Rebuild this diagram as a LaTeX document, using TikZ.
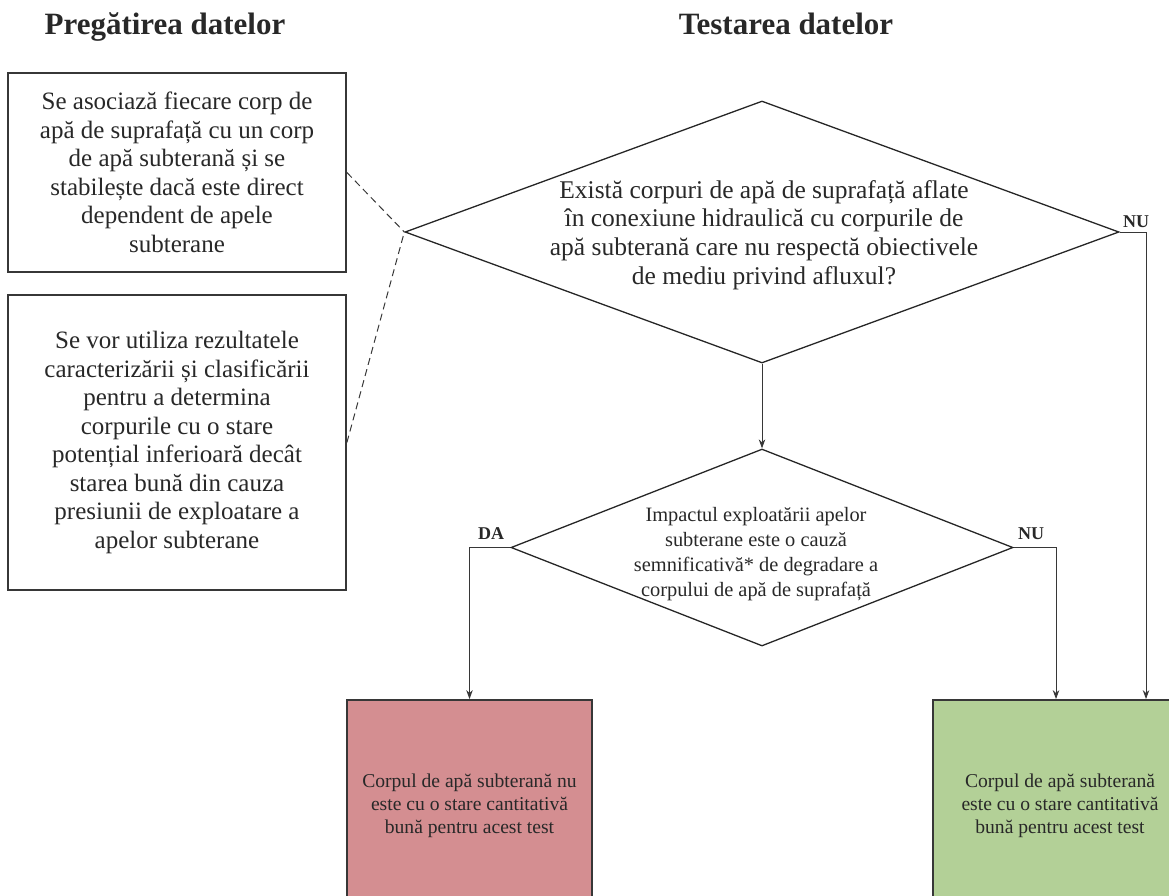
\documentclass[tikz,border=0pt]{standalone}
\usepackage{fontspec}
\setmainfont{Liberation Serif}
\usetikzlibrary{shapes.geometric,arrows.meta}
\definecolor{failfill}{RGB}{212,142,145}
\definecolor{passfill}{RGB}{179,208,151}
\definecolor{edgegray}{RGB}{55,55,55}
\definecolor{inkgray}{RGB}{40,40,40}

\begin{document}
\begin{tikzpicture}[x=1pt,y=-1pt,
  heading/.style={anchor=base,font=\fontsize{31}{36}\selectfont\bfseries,text=inkgray},
  note/.style={draw=edgegray,line width=1.8pt,inner sep=0pt,align=center,text=inkgray,
               font=\fontsize{25}{28.5}\selectfont,minimum width=338pt},
  decision/.style={diamond,draw=black!85,line width=1.3pt,inner sep=0pt},
  qtext/.style={align=center,text=inkgray,inner sep=0pt},
  result/.style={draw=edgegray,line width=1.8pt,inner sep=0pt,align=center,text=inkgray,
                 font=\fontsize{19.6}{23}\selectfont},
  answer/.style={font=\fontsize{18}{20}\selectfont\bfseries,text=inkgray,inner sep=0pt},
  flow/.style={draw=edgegray,line width=1pt,-{Stealth[length=9pt,width=6.5pt]}},
  link/.style={draw=edgegray,line width=1pt,dash pattern=on 7pt off 4.5pt}]

\useasboundingbox (0,0) rectangle (1169,895);
\clip (0,0) rectangle (1169,895);

% column headings
\node[heading] (h1) at (165,34) {Pregătirea datelor};
\node[heading] (h2) at (786,34) {Testarea datelor};

% data preparation notes
\node[note,minimum height=199pt] (prep1) at (177,172.5)
  {Se asociază fiecare corp de\\apă de suprafață cu un corp\\de apă subterană și se\\stabilește dacă este direct\\dependent de apele\\subterane};
\node[note,minimum height=295pt] (prep2) at (177,442.5)
  {Se vor utiliza rezultatele\\caracterizării și clasificării\\pentru a determina\\corpurile cu o stare\\potențial inferioară decât\\starea bună din cauza\\presiunii de exploatare a\\apelor subterane};

% decisions
\node[decision,minimum width=714pt,minimum height=262pt] (q1) at (762,232) {};
\node[qtext,font=\fontsize{25.5}{28.7}\selectfont] (q1t) at (764,235)
  {Există corpuri de apă de suprafață aflate\\în conexiune hidraulică cu corpurile de\\apă subterană care nu respectă obiectivele\\de mediu privind afluxul?};

\node[decision,minimum width=502pt,minimum height=197pt] (q2) at (762,547.5) {};
\node[qtext,font=\fontsize{20.4}{25}\selectfont] (q2t) at (756,554)
  {Impactul exploatării apelor\\subterane este o cauză\\semnificativă* de degradare a\\corpului de apă de suprafață};

% outcomes
\node[result,fill=failfill,minimum width=245pt,minimum height=212pt] (fail) at (469.5,806)
  {Corpul de apă subterană nu\\este cu o stare cantitativă\\bună pentru acest test};
\node[result,fill=passfill,minimum width=254pt,minimum height=212pt] (pass) at (1060,806)
  {Corpul de apă subterană\\este cu o stare cantitativă\\bună pentru acest test};

% bend points
\coordinate (j1) at (1146,232);
\coordinate (j2) at (1056,547.5);

% connectors
\draw[link] (prep1.east) -- (q1.west);
\draw[link] (prep2.east) -- (q1.west);
\draw[flow] (q1.south) -- (q2.north);
\draw[flow] (q1.east) -- (j1) -- (j1 |- pass.north);
\draw[flow] (q2.west) -| (fail.north);
\draw[flow] (q2.east) -- (j2) -- (j2 |- pass.north);

% branch labels
\node[answer] (nu1) at (1136,222) {NU};
\node[answer] (da2) at (491,534) {DA};
\node[answer] (nu2) at (1031,534) {NU};
\end{tikzpicture}
\end{document}
